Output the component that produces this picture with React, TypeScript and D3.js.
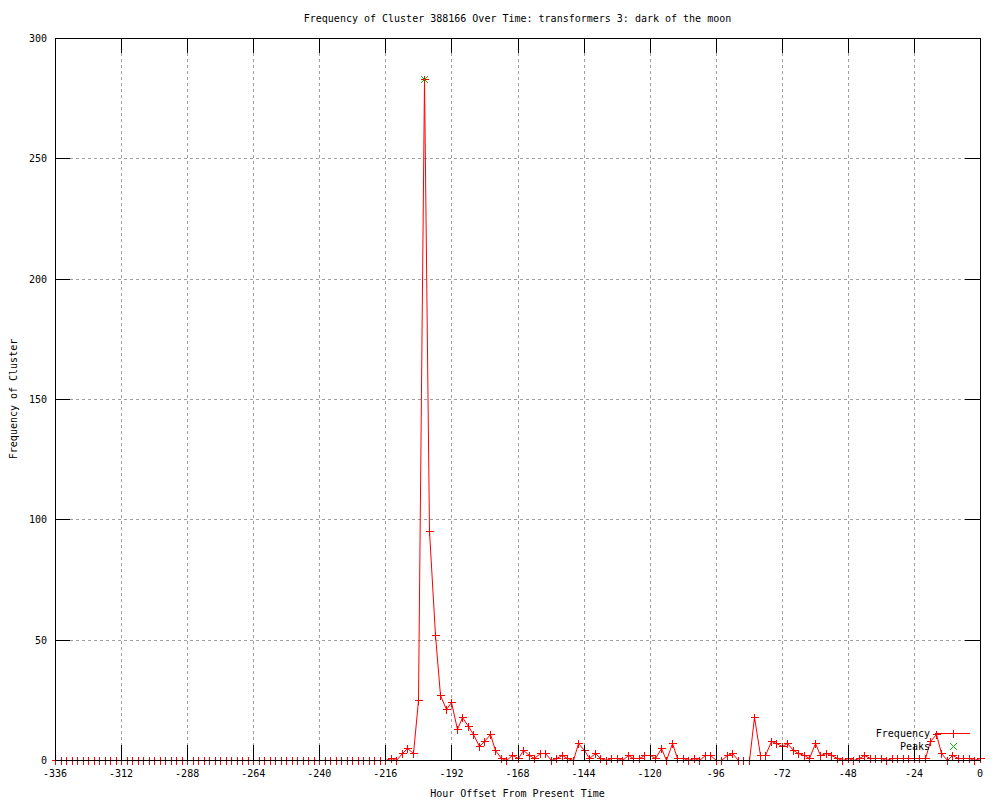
import React, { useRef, useEffect } from "react";
import * as d3 from "d3";

// hour offsets, every 2 hours from -336 to 0
const hours: number[] = d3.range(-336, 1, 2);

// cluster frequency per 2-hour bin
const frequency: number[] = [
  // -336 .. -218
  0, 0, 0, 0, 0, 0, 0, 0, 0, 0, 0, 0, 0, 0, 0, 0, 0, 0, 0, 0,
  0, 0, 0, 0, 0, 0, 0, 0, 0, 0, 0, 0, 0, 0, 0, 0, 0, 0, 0, 0,
  0, 0, 0, 0, 0, 0, 0, 0, 0, 0, 0, 0, 0, 0, 0, 0, 0, 0, 0, 0,
  // -216 .. 0
  0, 1, 0, 3, 5, 3, 25, 283, 95, 52,
  27, 21, 24, 13, 18, 14, 11, 6, 8, 11,
  4, 1, 0, 2, 1, 4, 2, 1, 3, 3,
  0, 1, 2, 1, 0, 7, 4, 1, 3, 1,
  0, 1, 1, 0, 2, 1, 1, 2, 2, 1,
  5, 0, 7, 1, 1, 0, 1, 0, 2, 2,
  0, 0, 2, 3, 0, 0, 0, 18, 2, 2,
  8, 7, 6, 7, 4, 3, 2, 1, 7, 2,
  3, 2, 1, 0, 1, 0, 1, 2, 1, 1,
  1, 0, 1, 1, 1, 1, 1, 1, 1, 8,
  11, 3, 0, 2, 1, 1, 1, 0, 1,
];

const peakHours: number[] = [-202];
const peakValues: number[] = [283];

const xTicks: number[] = [-336, -312, -288, -264, -240, -216, -192, -168, -144, -120, -96, -72, -48, -24, 0];
const yTicks: number[] = [0, 50, 100, 150, 200, 250, 300];

const FONT = "'DejaVu Sans Mono', 'Liberation Mono', monospace";
const RED = "#ff0000";
const GREEN = "#00c000";

const App = () => {
  const svgRef = useRef<SVGSVGElement>(null);

  useEffect(() => {
    const left = 55, right = 980, top = 38, bottom = 760;
    const svg = d3.select(svgRef.current);
    svg.selectAll("*").remove();

    const x = d3.scaleLinear().domain([-336, 0]).range([left, right]);
    const y = d3.scaleLinear().domain([0, 300]).range([bottom, top]);
    const tickLen = 15;

    svg.append("rect").attr("width", 1000).attr("height", 800).attr("fill", "white");

    // grid
    const grid = svg.append("g").attr("stroke", "#a0a0a0").attr("stroke-dasharray", "3,3")
      .attr("stroke-width", 1).attr("shape-rendering", "crispEdges");
    xTicks.slice(1, -1).forEach((t) => {
      grid.append("line")
        .attr("x1", Math.round(x(t)) + 0.5).attr("x2", Math.round(x(t)) + 0.5)
        .attr("y1", top + tickLen).attr("y2", bottom - tickLen);
    });
    yTicks.slice(1, -1).forEach((t) => {
      grid.append("line")
        .attr("x1", left + tickLen).attr("x2", right - tickLen)
        .attr("y1", Math.round(y(t)) + 0.5).attr("y2", Math.round(y(t)) + 0.5);
    });

    // frequency line + points
    const line = d3.line<number>()
      .x((d, i) => Math.round(x(hours[i])) + 0.5)
      .y((d) => Math.round(y(d)) + 0.5);
    svg.append("path")
      .datum(frequency)
      .attr("d", line)
      .attr("fill", "none")
      .style("stroke", RED)
      .attr("stroke-width", 1);

    const plus = (g: any, cx: number, cy: number, color: string) => {
      g.append("path")
        .attr("d", `M${cx - 4},${cy}H${cx + 4}M${cx},${cy - 4}V${cy + 4}`)
        .style("stroke", color).attr("stroke-width", 1).attr("fill", "none")
        .attr("shape-rendering", "crispEdges");
    };
    const cross = (g: any, cx: number, cy: number, color: string) => {
      g.append("path")
        .attr("d", `M${cx - 3.5},${cy - 3.5}L${cx + 3.5},${cy + 3.5}M${cx - 3.5},${cy + 3.5}L${cx + 3.5},${cy - 3.5}`)
        .style("stroke", color).attr("stroke-width", 1).attr("fill", "none");
    };

    const pts = svg.append("g");
    frequency.forEach((v, i) => {
      plus(pts, Math.round(x(hours[i])) + 0.5, Math.round(y(v)) + 0.5, RED);
    });

    // peaks
    const pk = svg.append("g");
    peakValues.forEach((v, i) => {
      cross(pk, Math.round(x(peakHours[i])) + 0.5, Math.round(y(v)) + 0.5, GREEN);
    });

    // border and ticks
    const ax = svg.append("g").attr("stroke", "black").attr("stroke-width", 1)
      .attr("fill", "none").attr("shape-rendering", "crispEdges");
    ax.append("rect")
      .attr("x", left + 0.5).attr("y", top + 0.5)
      .attr("width", right - left).attr("height", bottom - top);
    xTicks.forEach((t) => {
      const px = Math.round(x(t)) + 0.5;
      ax.append("line").attr("x1", px).attr("x2", px).attr("y1", bottom).attr("y2", bottom - tickLen);
      ax.append("line").attr("x1", px).attr("x2", px).attr("y1", top).attr("y2", top + tickLen);
    });
    yTicks.forEach((t) => {
      const py = Math.round(y(t)) + 0.5;
      ax.append("line").attr("x1", left).attr("x2", left + tickLen).attr("y1", py).attr("y2", py);
      ax.append("line").attr("x1", right).attr("x2", right - tickLen).attr("y1", py).attr("y2", py);
    });

    // tick labels
    const txt = svg.append("g").attr("font-family", FONT).attr("font-size", 10).attr("fill", "black");
    xTicks.forEach((t) => {
      txt.append("text").attr("x", x(t)).attr("y", bottom + 17)
        .attr("text-anchor", "middle").text(t);
    });
    yTicks.forEach((t) => {
      txt.append("text").attr("x", left - 8).attr("y", y(t) + 4)
        .attr("text-anchor", "end").text(t);
    });

    // titles
    txt.append("text").attr("x", (left + right) / 2).attr("y", 22)
      .attr("text-anchor", "middle")
      .text("Frequency of Cluster 388166 Over Time: transformers 3: dark of the moon");
    txt.append("text").attr("x", (left + right) / 2).attr("y", 797)
      .attr("text-anchor", "middle").text("Hour Offset From Present Time");
    txt.append("text")
      .attr("transform", `translate(17,${(top + bottom) / 2}) rotate(-90)`)
      .attr("text-anchor", "middle").text("Frequency of Cluster");

    // legend
    txt.append("text").attr("x", 930).attr("y", 737).attr("text-anchor", "end").text("Frequency");
    svg.append("line").attr("x1", 935).attr("x2", 970).attr("y1", 733.5).attr("y2", 733.5)
      .style("stroke", RED).attr("stroke-width", 1).attr("shape-rendering", "crispEdges");
    plus(svg, 953.5, 733.5, RED);
    txt.append("text").attr("x", 930).attr("y", 750).attr("text-anchor", "end").text("Peaks");
    cross(svg, 953.5, 746.5, GREEN);
  }, []);

  return (
    <div style={{ position: "absolute", left: 0, top: 0 }}>
      <svg ref={svgRef} width={1000} height={800} style={{ display: "block" }}></svg>
    </div>
  );
};

export default App;
